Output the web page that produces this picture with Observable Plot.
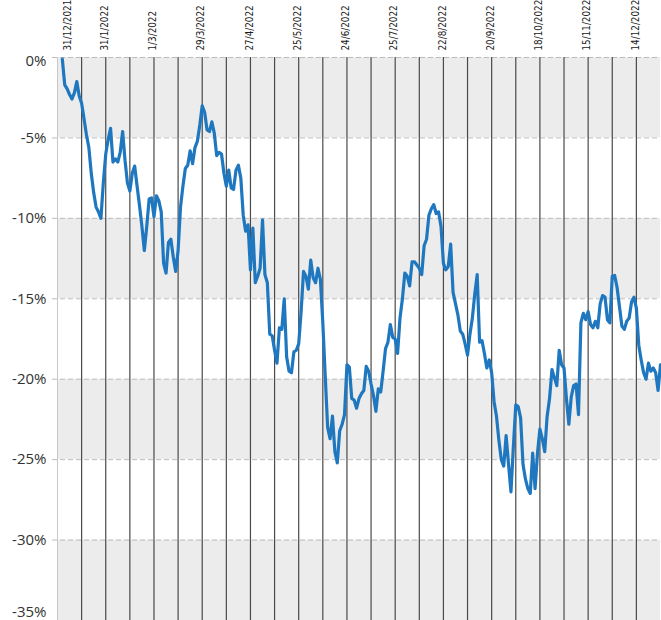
<!DOCTYPE html>
<html>
<head>
<meta charset="utf-8">
<script src="https://cdn.jsdelivr.net/npm/d3@7"></script>
<script src="https://cdn.jsdelivr.net/npm/@observablehq/plot@0.6"></script>
<style>
  html, body { margin: 0; padding: 0; background: #fff; }
  #chart { width: 661px; height: 620px; overflow: hidden; }
</style>
</head>
<body>
<div id="chart"></div>
<script>
// Trading-day index of the first plotted value
const firstDay = 2;
const lastDay = 250;
// Cumulative performance (%) per trading day
const values = [
  -0.1, -1.7, -1.95, -2.3, -2.58, -2.2, -1.5, -2.4, -2.85, -3.8,
  -4.8, -5.6, -7.2, -8.4, -9.3, -9.6, -10.0, -7.8, -6.0, -5.1,
  -4.4, -6.5, -6.3, -6.5, -5.9, -4.6, -6.4, -7.8, -8.3, -7.2,
  -6.75, -8.0, -9.2, -10.5, -12.0, -10.5, -8.8, -8.73, -9.9, -8.6,
  -8.9, -9.6, -12.8, -13.4, -11.5, -11.3, -12.4, -13.3, -12.0, -9.3,
  -8.0, -6.9, -6.7, -5.8, -6.6, -5.6, -5.2, -4.2, -3.0, -3.4,
  -4.5, -4.6, -4.0, -4.7, -6.1, -5.9, -6.0, -7.2, -8.0, -7.0,
  -8.1, -8.2, -7.0, -6.7, -7.5, -9.8, -10.8, -10.4, -13.2, -10.6,
  -14.0, -13.6, -13.1, -10.1, -13.5, -14.0, -17.2, -17.3, -18.2, -19.0,
  -16.8, -16.9, -15.0, -18.6, -19.5, -19.6, -18.3, -18.2, -17.8, -15.8,
  -13.3, -13.6, -14.4, -12.6, -13.7, -14.0, -13.1, -13.8, -16.5, -19.8,
  -23.0, -23.7, -22.3, -24.5, -25.2, -23.2, -22.8, -22.2, -19.1, -19.25,
  -21.2, -21.3, -21.8, -21.2, -20.9, -20.7, -19.2, -19.5, -20.3, -21.0,
  -22.0, -20.6, -20.8, -19.5, -18.1, -17.7, -16.6, -17.4, -17.5, -18.4,
  -16.2, -15.0, -13.4, -13.6, -14.2, -12.7, -12.7, -12.9, -13.1, -13.5,
  -11.7, -11.3, -9.8, -9.4, -9.15, -9.7, -9.6, -10.5, -12.8, -13.2,
  -13.0, -11.6, -14.6, -15.3, -16.0, -17.0, -17.2, -17.8, -18.5, -17.2,
  -16.2, -14.7, -13.5, -17.7, -17.6, -18.4, -19.3, -18.8, -19.6, -21.4,
  -22.3, -23.8, -25.0, -25.4, -23.5, -25.3, -27.0, -24.2, -21.6, -21.7,
  -22.4, -25.3, -26.2, -26.8, -27.1, -24.6, -26.8, -24.6, -23.1, -23.7,
  -24.5, -22.3, -21.2, -19.4, -19.9, -20.4, -18.2, -19.1, -19.3, -21.2,
  -22.8, -21.1, -20.4, -20.3, -22.2, -16.5, -15.9, -16.3, -15.8, -16.6,
  -16.8, -16.4, -16.8, -15.3, -14.8, -14.9, -16.3, -16.5, -13.6, -13.55,
  -14.3, -15.5, -16.7, -16.9, -16.4, -16.2, -15.2, -14.9, -15.6, -17.9,
  -18.8, -19.6, -20.0, -19.0, -19.5, -19.3, -19.6, -20.7, -19.1
];
// Date labels (every 20 trading days) and their trading-day index
const dateLabels = ["31/1/2022", "1/3/2022", "29/3/2022", "27/4/2022", "25/5/2022", "24/6/2022",
  "25/7/2022", "22/8/2022", "20/9/2022", "18/10/2022", "15/11/2022", "14/12/2022"];
const dateIdx = [20, 40, 60, 80, 100, 120, 140, 160, 180, 200, 220, 240];
const firstLabel = "31/12/2021";
// vertical separators every 10 trading days
const gridIdx = d3.range(10, 250, 10);
// y ticks (%)
const yTicks = [0, -5, -10, -15, -20, -25, -30, -35];
const bandTop = [0, -10, -20, -30];
const bandBottom = [-5, -15, -25, -35];

const series = values.map((v, k) => ({day: firstDay + k, v}));
const bands = bandTop.map((t, k) => ({t, b: bandBottom[k]}));
const labels = dateLabels.map((s, k) => ({s, i: dateIdx[k]}));
const yInner = yTicks.slice(1, -1);
const yFirst = yTicks.slice(0, 1);
const yLast = yTicks.slice(-1);

const condensed = "'Liberation Sans Narrow', 'Arial Narrow', 'DejaVu Sans Condensed', sans-serif";
const yText = {y: d => d, text: d => d + "%", frameAnchor: "left", textAnchor: "end", dx: -11, fontSize: 15, fill: "#333"};

const chart = Plot.plot({
  width: 661,
  height: 620,
  marginLeft: 57,
  marginRight: 1,
  marginTop: 57,
  marginBottom: 0,
  style: {background: "#fff", fontFamily: "'Open Sans', sans-serif", overflow: "hidden"},
  x: {type: "linear", domain: [0, lastDay], axis: null},
  y: {domain: [-35, 0], axis: null},
  marks: [
    Plot.rect(bands, {y1: "t", y2: "b", fill: "#ececec"}),
    Plot.ruleY(yTicks, {stroke: "#bdbdbd", strokeDasharray: "5,3", strokeWidth: 1, insetLeft: -5}),
    Plot.ruleX([0], {stroke: "#c8c8c8", strokeWidth: 1}),
    Plot.ruleX(gridIdx, {stroke: "#4a4a4a", strokeWidth: 1.2}),
    Plot.line(series, {x: "day", y: "v", stroke: "#1f78bf", strokeWidth: 3.2, strokeLinejoin: "round", strokeLinecap: "round"}),
    Plot.text(yInner, yText),
    Plot.text(yFirst, {...yText, dy: 4}),
    Plot.text(yLast, {...yText, dy: -8}),
    Plot.text(labels, {x: "i", text: "s", frameAnchor: "top", rotate: -90, textAnchor: "start", lineAnchor: "middle", dy: -7, dx: -1, fontSize: 9.8, fill: "#1a1a1a", fontFamily: condensed}),
    Plot.text([firstLabel], {x: 0, text: d => d, frameAnchor: "top", rotate: -90, textAnchor: "start", lineAnchor: "middle", dy: -7, dx: 10, fontSize: 9.8, fill: "#1a1a1a", fontFamily: condensed})
  ]
});
document.getElementById("chart").appendChild(chart);
</script>
</body>
</html>
